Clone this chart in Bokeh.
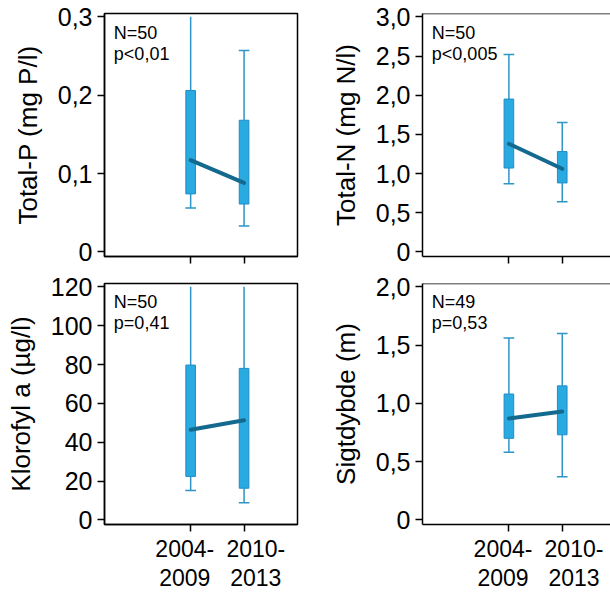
from bokeh.plotting import figure
from bokeh.models import FixedTicker, Label, Span, LinearAxis
from bokeh.layouts import column, row
from bokeh.embed import file_html
from bokeh.resources import INLINE

# ---------------- data ----------------
periods = ["2004-\n2009", "2010-\n2013"]

tp_low = [0.056, 0.033]
tp_q1 = [0.074, 0.061]
tp_med = [0.117, 0.088]
tp_q3 = [0.206, 0.168]
tp_high = [0.30, 0.257]
tp_ticks = [0, 0.1, 0.2, 0.3]
tp_tick_labels = ["0", "0,1", "0,2", "0,3"]

tn_low = [0.87, 0.64]
tn_q1 = [1.07, 0.88]
tn_med = [1.38, 1.06]
tn_q3 = [1.95, 1.28]
tn_high = [2.52, 1.65]
tn_ticks = [0, 0.5, 1.0, 1.5, 2.0, 2.5, 3.0]
tn_tick_labels = ["0", "0,5", "1,0", "1,5", "2,0", "2,5", "3,0"]

chl_low = [15.1, 8.8]
chl_q1 = [22.4, 16.3]
chl_med = [46.4, 51.3]
chl_q3 = [79.7, 78.0]
chl_high = [120, 120]
chl_ticks = [0, 20, 40, 60, 80, 100, 120]
chl_tick_labels = ["0", "20", "40", "60", "80", "100", "120"]

sd_low = [0.58, 0.37]
sd_q1 = [0.70, 0.73]
sd_med = [0.87, 0.93]
sd_q3 = [1.08, 1.15]
sd_high = [1.56, 1.60]
sd_ticks = [0, 0.5, 1.0, 1.5, 2.0]
sd_tick_labels = ["0", "0,5", "1,0", "1,5", "2,0"]

FONT = "Liberation Sans"
BOX_FILL = "#29abe2"
BOX_LINE = "#1f8cc8"
WHISK = "#2e95c8"
MED = "#14698f"
# horizontal nudges of the two period labels (they are wider than the tick gap)
LABEL_NUDGE = [-0.11, 0.22]


def style_axis(ax):
    ax.axis_line_color = "black"
    ax.axis_line_width = 1.5
    ax.major_tick_line_color = "black"
    ax.major_tick_line_width = 1.5
    ax.major_tick_out = 7
    ax.major_tick_in = 0
    ax.minor_tick_line_color = None
    ax.major_label_text_font = FONT
    ax.major_label_text_color = "black"
    ax.major_label_standoff = 5


def panel(ylabel, ticks, tick_labels, low, q1, med, q3, high, n_txt, p_txt,
          left_col, bottom_row):
    xs = [i + 1 for i in range(len(periods))]
    ymax = ticks[-1]
    yr = (-0.0198 * ymax, 1.0142 * ymax)
    if left_col:
        xr = (-0.6125, 3.0)
        mbl, mbr = 104, 8
    else:
        xr = (-0.62, 2.905)
        mbl, mbr = 117, 0
    h = 324 if bottom_row else 270
    mbb = 68 if bottom_row else 14
    p = figure(width=305, height=h, x_range=xr, y_range=yr,
               output_backend="svg", toolbar_location=None,
               min_border_left=mbl, min_border_right=mbr,
               min_border_top=13, min_border_bottom=mbb)
    p.grid.visible = False
    p.background_fill_color = "white"
    if left_col:
        p.outline_line_color = "black"
        p.outline_line_width = 1.5
    else:
        p.outline_line_color = None
        p.add_layout(Span(location=yr[1], dimension="width",
                          line_color="black", line_width=1.5))

    style_axis(p.xaxis[0])
    style_axis(p.yaxis[0])
    p.yaxis.ticker = FixedTicker(ticks=ticks)
    p.yaxis.major_label_overrides = {t: l for t, l in zip(ticks, tick_labels)}
    p.yaxis.major_label_text_font_size = "25px"
    p.yaxis.axis_label = ylabel
    p.yaxis.axis_label_text_font = FONT
    p.yaxis.axis_label_text_font_size = "26px"
    p.yaxis.axis_label_text_font_style = "normal"
    p.yaxis.axis_label_text_color = "black"
    p.yaxis.axis_label_standoff = 12

    # x axis: tick marks only
    p.xaxis.ticker = FixedTicker(ticks=xs)
    p.xaxis.major_label_text_color = None
    p.xaxis.major_label_standoff = 0

    if bottom_row:
        pos = [round(x + d, 3) for x, d in zip(xs, LABEL_NUDGE)]
        lab_ax = LinearAxis(ticker=FixedTicker(ticks=pos),
                            major_label_overrides={t: l for t, l in zip(pos, periods)})
        lab_ax.axis_line_color = None
        lab_ax.major_tick_line_color = None
        lab_ax.major_tick_out = 0
        lab_ax.major_tick_in = 0
        lab_ax.minor_tick_line_color = None
        lab_ax.major_label_text_font = FONT
        lab_ax.major_label_text_font_size = "23px"
        lab_ax.major_label_text_color = "black"
        lab_ax.major_label_text_line_height = 1.15
        lab_ax.major_label_standoff = 4
        p.add_layout(lab_ax, "below")

    # whiskers (clipped at the axis maximum)
    hi = [min(v, ymax) for v in high]
    p.segment(x0=xs, y0=q3, x1=xs, y1=hi, line_color=WHISK, line_width=1.5)
    p.segment(x0=xs, y0=low, x1=xs, y1=q1, line_color=WHISK, line_width=1.5)
    cw = 0.1
    p.segment(x0=[x - cw for x in xs], y0=low, x1=[x + cw for x in xs], y1=low,
              line_color=WHISK, line_width=1.5)
    cx = [x for x, v in zip(xs, high) if v < ymax]
    cy = [v for v in high if v < ymax]
    if cx:
        p.segment(x0=[x - cw for x in cx], y0=cy, x1=[x + cw for x in cx], y1=cy,
                  line_color=WHISK, line_width=1.5)
    # boxes
    p.vbar(x=xs, bottom=q1, top=q3, width=0.18, fill_color=BOX_FILL,
           line_color=BOX_LINE, line_width=1)
    # medians connected
    p.line(xs, med, line_color=MED, line_width=4, line_cap="round")

    # annotation text
    tx = xr[0] + 0.175
    p.add_layout(Label(x=tx, y=ymax * (1 - 0.0667), text=n_txt,
                       text_font=FONT, text_font_size="18px",
                       text_color="black", text_baseline="alphabetic"))
    p.add_layout(Label(x=tx, y=ymax * (1 - 0.157), text=p_txt,
                       text_font=FONT, text_font_size="18px",
                       text_color="black", text_baseline="alphabetic"))
    return p


p1 = panel("Total-P (mg P/l)", tp_ticks, tp_tick_labels, tp_low, tp_q1, tp_med,
           tp_q3, tp_high, "N=50", "p<0,01", True, False)
p2 = panel("Total-N (mg N/l)", tn_ticks, tn_tick_labels, tn_low, tn_q1, tn_med,
           tn_q3, tn_high, "N=50", "p<0,005", False, False)
p3 = panel("Klorofyl a (µg/l)", chl_ticks, chl_tick_labels, chl_low, chl_q1,
           chl_med, chl_q3, chl_high, "N=50", "p=0,41", True, True)
p4 = panel("Sigtdybde (m)", sd_ticks, sd_tick_labels, sd_low, sd_q1, sd_med,
           sd_q3, sd_high, "N=49", "p=0,53", False, True)

layout = column(row(p1, p2), row(p3, p4))
open("out.html", "w").write(file_html(layout, INLINE))
